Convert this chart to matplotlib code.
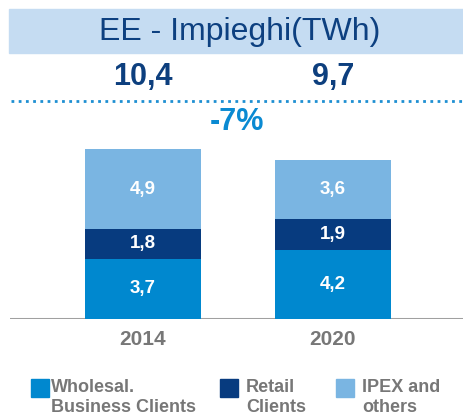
import matplotlib.pyplot as plt
from matplotlib.patches import Rectangle

plt.rcParams['font.family'] = ['Liberation Sans', 'DejaVu Sans']

years = ['2014', '2020']
wholesale = [3.7, 4.2]
retail = [1.8, 1.9]
ipex = [4.9, 3.6]
totals = ['10,4', '9,7']
change = '-7%'
series_names = ['Wholesal.\nBusiness Clients', 'Retail\nClients', 'IPEX and\nothers']
colors = ['#0088cf', '#073b7f', '#7ab5e2']

W, H = 464, 419
fig = plt.figure(figsize=(W / 100, H / 100), dpi=100)


def fx(px):
    return px / W


def fy(py):
    return 1 - py / H


# title band
fig.patches.append(Rectangle((fx(9), fy(53)), fx(464 - 9), 44 / H,
                             transform=fig.transFigure, color='#c5dcf2', zorder=0))
fig.text(fx(240), fy(32), 'EE - Impieghi(TWh)', ha='center', va='center',
         fontsize=23, color='#0d4080')

# dotted separator
fig.add_artist(plt.Line2D([fx(11), fx(464)], [fy(101), fy(101)], transform=fig.transFigure,
                          color='#1e8fd2', lw=2, linestyle=(0, (1, 1.6))))

# bars axis: centers at px 143 and 333, baseline at px 319
left, right, base, top = 10, 464, 319, 140
ax = fig.add_axes([fx(left), fy(base), fx(right - left), (base - top) / H])
ppu = 190.0
ax.set_xlim((left - 143) / ppu, (right - 143) / ppu)
ax.set_ylim(0, (base - top) / 16.35)

x = list(range(len(years)))
w = 116 / ppu
bottoms = [0, 0]
for vals, c in zip([wholesale, retail, ipex], colors):
    ax.bar(x, vals, width=w, bottom=bottoms, color=c, zorder=2)
    for i, v in enumerate(vals):
        ax.text(x[i], bottoms[i] + v / 2, f'{v:.1f}'.replace('.', ','), ha='center', va='center',
                color='white', fontsize=13.5, fontweight='bold', zorder=3)
    bottoms = [b + v for b, v in zip(bottoms, vals)]

ax.axhline(0, color='#a0a0a0', lw=2.2, zorder=1)
for s in ax.spines.values():
    s.set_visible(False)
ax.set_xticks([])
ax.set_yticks([])
ax.patch.set_alpha(0)

for i, yr in enumerate(years):
    ax.annotate(yr, (x[i], 0), xytext=(0, -20), textcoords='offset pixels', ha='center',
                va='center', fontsize=15, fontweight='bold', color='#777777')

# totals and change
for i, t in enumerate(totals):
    ax.annotate(t, (x[i], 0), xycoords=('data', 'figure fraction'), xytext=(0, fy(77) * H),
                textcoords='offset pixels', ha='center', va='center',
                fontsize=22, fontweight='bold', color='#0d3f7e')
fig.text(fx(237), fy(122), change, ha='center', va='center', fontsize=22,
         fontweight='bold', color='#0a8ad2')

# legend
legend_x = [31, 220, 336]
text_x = [51, 246, 362]
for lx, tx, name, c in zip(legend_x, text_x, series_names, colors):
    fig.patches.append(Rectangle((fx(lx), fy(397)), 18 / W, 18 / H,
                                 transform=fig.transFigure, color=c))
    fig.text(fx(tx), fy(379), name, ha='left', va='top', fontsize=13,
             fontweight='bold', color='#777777', linespacing=1.2)

fig.savefig('out.png', dpi=100)
